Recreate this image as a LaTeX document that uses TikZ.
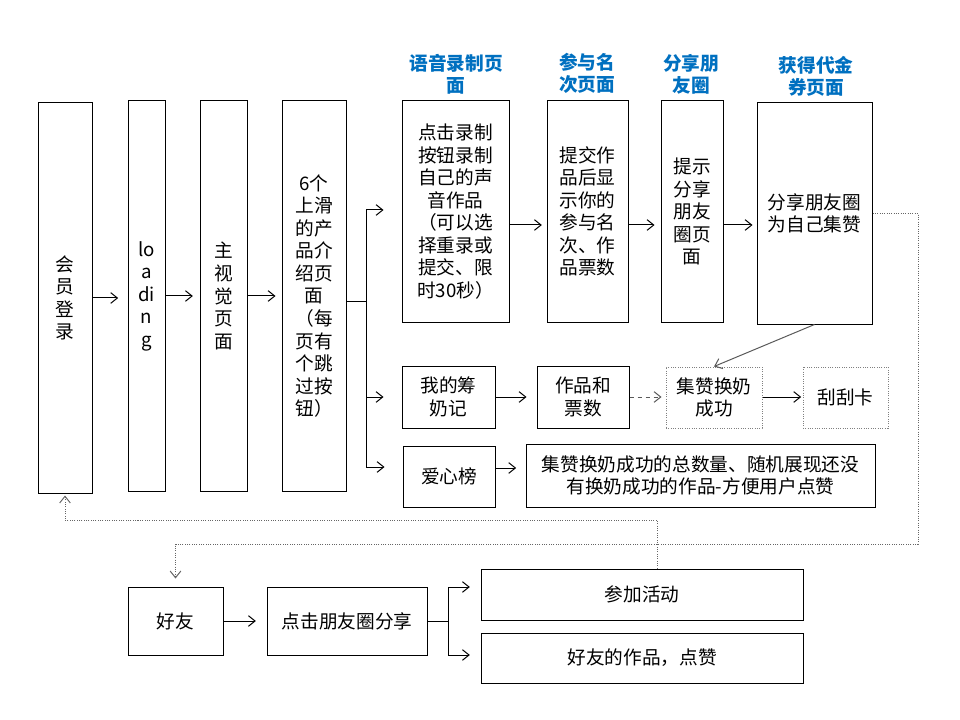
\documentclass[tikz,border=0pt]{standalone}
\usepackage{fontspec}
\setmainfont{Noto Sans CJK SC}
\usetikzlibrary{arrows.meta}
\definecolor{ttl}{RGB}{0,112,192}
\begin{document}
\begin{tikzpicture}[x=0.75pt,y=-0.75pt,
  box/.style={draw=black,line width=0.75pt,inner sep=0pt,font=\fontsize{14}{16.9}\selectfont},
  mbox/.style={box,align=center},
  gbox/.style={draw=gray,densely dotted},
  ttlnode/.style={align=center,font=\fontsize{14}{16.4}\selectfont\bfseries,text=ttl},
  arr/.style={line width=0.75pt,-{Straight Barb[length=5pt,width=8pt]}},
  dotline/.style={line width=0.75pt,gray!80!black,densely dotted},
]
\useasboundingbox (0,0) rectangle (960,720);
% titles
\node[ttlnode] (t1) at (456,74) {语音录制页\\面};
\node[ttlnode] (t2) at (587,73) {参与名\\次页面};
\node[ttlnode] (t3) at (691,74) {分享朋\\友圈};
\node[ttlnode] (t4) at (816,76) {获得代金\\券页面};
% top row
\node[mbox,minimum width=40.5pt,minimum height=292.5pt] (hy) at (65,298) {会\\员\\登\\录};
\node[mbox,minimum width=27.75pt,minimum height=292.5pt] (ld) at (146.5,296) {lo\\a\\di\\n\\g};
\node[mbox,minimum width=35.25pt,minimum height=292.5pt] (zs) at (223.5,296) {主\\视\\觉\\页\\面};
\node[mbox,minimum width=48pt,minimum height=292.5pt] (six) at (314,296) {6个\\上滑\\的产\\品介\\绍页\\面\\（每\\页有\\个跳\\过按\\钮）};
\node[mbox,minimum width=80.25pt,minimum height=165.75pt] (yy) at (455.5,211.5) {点击录制\\按钮录制\\自己的声\\音作品\\（可以选\\择重录或\\提交、限\\时30秒）};
\node[mbox,minimum width=60.75pt,minimum height=165.75pt] (cy) at (587.5,211.5) {提交作\\品后显\\示你的\\参与名\\次、作\\品票数};
\node[mbox,minimum width=46.5pt,minimum height=165.75pt] (fx) at (692,211.5) {提示\\分享\\朋友\\圈页\\面};
\node[mbox,minimum width=86.25pt,minimum height=165.75pt] (hd) at (814.5,213.5) {分享朋友圈\\为自己集赞};
% middle rows
\node[mbox,minimum width=69.75pt,minimum height=46.5pt] (wd) at (448.5,397) {我的筹\\奶记};
\node[mbox,minimum width=69pt,minimum height=46.5pt] (zp) at (583,397) {作品和\\票数};
\node[mbox,gbox,minimum width=72pt,minimum height=45.75pt] (jz) at (714,397.5) {集赞换奶\\成功};
\node[box,gbox,minimum width=63.75pt,minimum height=45.75pt] (gg) at (845.5,397.5) {刮刮卡};
\node[box,minimum width=69pt,minimum height=45.75pt] (ax) at (449,476.5) {爱心榜};
\node[mbox,minimum width=261.75pt,minimum height=47.25pt] (zl) at (700.5,475.5) {集赞换奶成功的总数量、随机展现还没\\有换奶成功的作品-方便用户点赞};
% bottom
\node[box,minimum width=71.25pt,minimum height=51pt] (hf) at (175.5,621) {好友};
\node[box,minimum width=120pt,minimum height=51pt] (dj) at (347,621) {点击朋友圈分享};
\node[box,minimum width=241.5pt,minimum height=38.25pt] (cj) at (642,594.5) {参加活动};
\node[box,minimum width=241.5pt,minimum height=37.5pt] (hz) at (642,658) {好友的作品，点赞};
% coordinates
\coordinate (br) at (366,302);
\coordinate (b1) at (366,210);
\coordinate (b2) at (366,397);
\coordinate (b3) at (366,467);
\coordinate (r2) at (0,225);
\coordinate (r4) at (0,468);
\coordinate (c2) at (918,544);
\coordinate (c4) at (657,520);
\coordinate (d0) at (448,621);
\coordinate (d1) at (448,587);
\coordinate (d2) at (448,655);
% top row connectors
\draw[arr,shorten >=7pt] (hy.east) -- (hy.east -| ld.west);
\draw[arr,shorten >=5pt] (ld.east) -- (ld.east -| zs.west);
\draw[arr,shorten >=4.5pt] (zs.east) -- (zs.east -| six.west);
\draw[line width=0.75pt] (six.east |- br) -- (br);
\draw[line width=0.75pt] (b1) -- (b3);
\draw[arr,shorten >=13.5pt] (b1) -- (b1 -| yy.west);
\draw[arr,shorten >=13.5pt] (b2) -- (b2 -| wd.west);
\draw[arr,shorten >=13.5pt] (b3) -- (b3 -| ax.west);
\draw[arr,shorten >=3.5pt] (yy.east |- r2) -- (cy.west |- r2);
\draw[arr,shorten >=4.5pt] (cy.east |- r2) -- (fx.west |- r2);
\draw[arr,shorten >=3pt] (fx.east |- r2) -- (hd.west |- r2);
\draw[arr,gray!70!black] (hd.south) -- (jz.north);
% middle connectors
\draw[arr,shorten >=7.5pt] (wd.east |- b2) -- (zp.west |- b2);
\draw[arr,dashed,gray!70!black,shorten >=3pt] (zp.east |- b2) -- (jz.west |- b2);
\draw[arr,shorten >=1pt] (jz.east |- b2) -- (gg.west |- b2);
\draw[arr,shorten >=7pt] (ax.east |- r4) -- (zl.west |- r4);
% dotted loops
\draw[dotline,arr,shorten >=6pt] (hd.east) -| (c2) -- (hf.north |- c2) -- (hf.north);
\draw[dotline,arr,shorten >=1.5pt] (c4 |- cj.north) -- (c4) -| (hy.south);
% bottom connectors
\draw[arr,shorten >=8pt] (hf.east) -- (dj.west);
\draw[line width=0.75pt] (dj.east) -- (d0);
\draw[line width=0.75pt] (d1) -- (d2);
\draw[arr,shorten >=8pt] (d1) -- (d1 -| cj.west);
\draw[arr,shorten >=8pt] (d2) -- (d2 -| hz.west);
\end{tikzpicture}
\end{document}
